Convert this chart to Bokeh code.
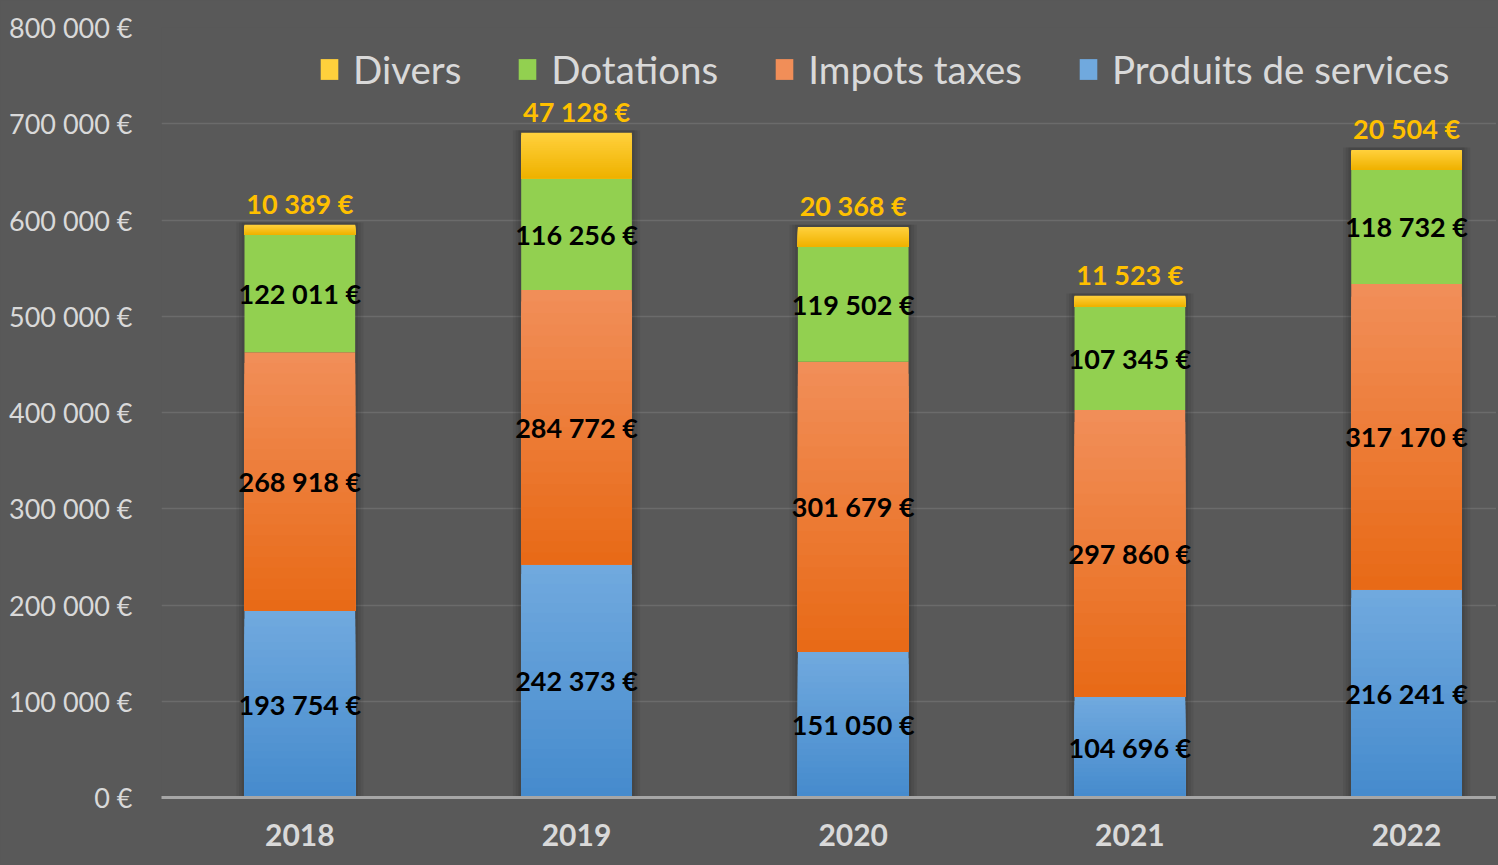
from bokeh.plotting import figure
from bokeh.models import ColumnDataSource, Range1d, FixedTicker, Legend, LegendItem, LabelSet
from bokeh.core.properties import value
from bokeh.embed import file_html
from bokeh.resources import INLINE

# ---- data ----
years = ["2018", "2019", "2020", "2021", "2022"]
produits = [193754, 242373, 151050, 104696, 216241]
impots = [268918, 284772, 301679, 297860, 317170]
dotations = [122011, 116256, 119502, 107345, 118732]
divers = [10389, 47128, 20368, 11523, 20504]
series_labels = ["Produits de services", "Impots taxes", "Dotations", "Divers"]
y_tick_values = [0, 100000, 200000, 300000, 400000, 500000, 600000, 700000, 800000]
y_tick_labels = ["0 €", "100 000 €", "200 000 €", "300 000 €", "400 000 €",
                 "500 000 €", "600 000 €", "700 000 €", "800 000 €"]

# ---- styles ----
BG = "#595959"
TXT = "#d9d9d9"
FONT = "Lato"
grad = {
    "Produits de services": ("#70a9de", "#468bcd"),
    "Impots taxes": ("#f18e58", "#e86a17"),
    "Dotations": ("#92d050", "#92d050"),
    "Divers": ("#ffd03c", "#efb200"),
}
BAR_W = 0.4
NSLICE = 24


def fmt(v):
    return f"{v:,}".replace(",", " ") + " €"


def lerp(c1, c2, t):
    a = [int(c1[i:i + 2], 16) for i in (1, 3, 5)]
    b = [int(c2[i:i + 2], 16) for i in (1, 3, 5)]
    return "#" + "".join(f"{round(a[k] + (b[k] - a[k]) * t):02x}" for k in range(3))


xs = list(range(len(years)))
stack = [produits, impots, dotations, divers]
bottoms = []
acc = [0] * len(years)
for vals in stack:
    bottoms.append(list(acc))
    acc = [acc[i] + vals[i] for i in range(len(years))]
totals = acc

p = figure(width=1496, height=863, output_backend="svg", toolbar_location=None,
           x_range=Range1d(-0.5, 4.325), y_range=Range1d(0, 800000),
           min_border_left=161, min_border_right=0, min_border_top=27, min_border_bottom=66)
p.background_fill_color = BG
p.border_fill_color = BG
p.outline_line_color = None

# shadows
for w, a in [(0.46, 0.06), (0.44, 0.07), (0.42, 0.08)]:
    p.vbar(x=xs, top=[t * 1.004 for t in totals], bottom=0, width=w,
           fill_color="black", fill_alpha=a, line_color=None)

renderers = {}
for name, vals, bots in zip(series_labels, stack, bottoms):
    ctop, cbot = grad[name]
    d = dict(x=[], bottom=[], top=[], color=[])
    for i in xs:
        b = bots[i]
        t = b + vals[i]
        d["x"].append(i); d["bottom"].append(b); d["top"].append(t); d["color"].append(ctop)
        if ctop != cbot:
            for k in range(1, NSLICE):
                d["x"].append(i)
                d["bottom"].append(b)
                d["top"].append(t - (t - b) * k / NSLICE)
                d["color"].append(lerp(ctop, cbot, k / (NSLICE - 1)))
    src = ColumnDataSource(d)
    renderers[name] = p.vbar(x="x", bottom="bottom", top="top", width=BAR_W,
                             fill_color="color", line_color=None, source=src)

# data labels (inside segments)
lab = dict(x=[], y=[], text=[])
for vals, bots in zip(stack[:3], bottoms[:3]):
    for i in xs:
        lab["x"].append(i)
        lab["y"].append(bots[i] + vals[i] / 2)
        lab["text"].append(fmt(vals[i]))
p.add_layout(LabelSet(x="x", y="y", text="text", source=ColumnDataSource(lab),
                      text_align="center", text_baseline="middle",
                      text_font=value(FONT), text_font_style="bold",
                      text_font_size="27px", text_color="black"))

# divers labels above bars
dl = ColumnDataSource(dict(x=xs, y=totals, text=[fmt(v) for v in divers]))
p.add_layout(LabelSet(x="x", y="y", text="text", source=dl, y_offset=11,
                      text_align="center", text_baseline="alphabetic",
                      text_font=value(FONT), text_font_style="bold",
                      text_font_size="27px", text_color="#ffc000"))

# axes
p.xaxis.ticker = FixedTicker(ticks=xs)
p.xaxis.major_label_overrides = dict(zip(xs, years))
p.xaxis.axis_line_color = "#a6a6a6"
p.xaxis.axis_line_width = 3
p.xaxis.major_tick_line_color = None
p.xaxis.minor_tick_line_color = None
p.xaxis.major_tick_out = 0
p.xaxis.major_label_text_font = FONT
p.xaxis.major_label_text_font_style = "bold"
p.xaxis.major_label_text_font_size = "30px"
p.xaxis.major_label_text_color = TXT
p.xaxis.major_label_standoff = 26

p.yaxis.ticker = FixedTicker(ticks=y_tick_values)
p.yaxis.major_label_overrides = dict(zip(y_tick_values, y_tick_labels))
p.yaxis.axis_line_color = None
p.yaxis.major_tick_line_color = None
p.yaxis.minor_tick_line_color = None
p.yaxis.major_tick_out = 0
p.yaxis.major_label_text_font = FONT
p.yaxis.major_label_text_font_size = "27px"
p.yaxis.major_label_text_color = TXT
p.yaxis.major_label_standoff = 29

p.xgrid.visible = False
p.ygrid.grid_line_color = "#6b6b6b"
p.ygrid.grid_line_width = 1.5

# legend
order = ["Divers", "Dotations", "Impots taxes", "Produits de services"]
legend = Legend(items=[LegendItem(label=n, renderers=[renderers[n]]) for n in order],
                orientation="horizontal", location=(157, 705))
legend.label_text_font = FONT
legend.label_text_font_size = "38.5px"
legend.label_text_color = TXT
legend.glyph_width = 22
legend.glyph_height = 26
legend.label_standoff = 13
legend.spacing = 55
legend.padding = 0
legend.margin = 0
legend.border_line_color = None
legend.background_fill_alpha = 0
p.add_layout(legend)

html = file_html(p, INLINE)
html = html.replace("<body>", '<body style="background-color:#595959;">')
open("out.html", "w").write(html)
